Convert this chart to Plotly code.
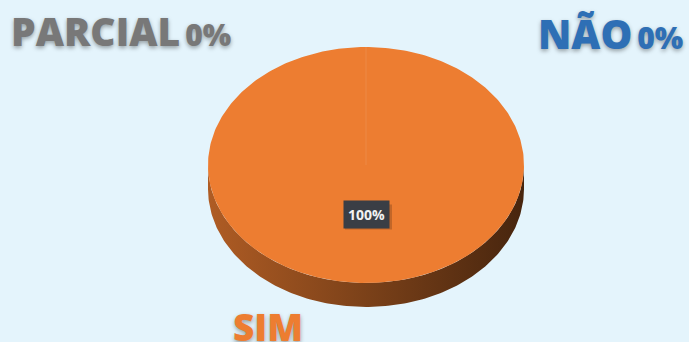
import math
import plotly.graph_objects as go

# Survey answers
categories = ["SIM", "NÃO", "PARCIAL"]
values = [100, 0, 0]
colors = ["#ED7D31", "#2E6FB5", "#787878"]

W, H = 689, 342
BG = "#E4F4FC"

# Elliptical "3D" pie geometry (in plot pixels, y downward)
CX, CY = 366, 165
RX, RY = 158, 118
DEPTH = 24


def pt(phi_deg, dy=0.0, r=1.0):
    """Point on the top face; phi measured clockwise from 12 o'clock."""
    a = math.radians(phi_deg)
    return CX + r * RX * math.sin(a), CY - r * RY * math.cos(a) + dy


def shade(hex_color, f):
    h = hex_color.lstrip("#")
    r, g, b = (int(h[i:i + 2], 16) for i in (0, 2, 4))
    return "rgb(%d,%d,%d)" % (r * f, g * f, b * f)


total = sum(values)
fractions = [v / total for v in values]
starts = []
acc = 0.0
for f in fractions:
    starts.append(acc * 360)
    acc += f

fig = go.Figure()

# Side wall (front half of the rim) for each slice, lit from the left
for cat, f, a0, col in zip(categories, fractions, starts, colors):
    a1 = a0 + f * 360
    lo, hi = max(a0, 90), min(a1, 270)
    if hi <= lo:
        continue
    n = max(2, int(hi - lo))
    top = [pt(lo + (hi - lo) * i / n) for i in range(n + 1)]
    xs = [p[0] for p in top] + [p[0] for p in reversed(top)] + [top[0][0]]
    ys = [p[1] for p in top] + [p[1] + DEPTH for p in reversed(top)] + [top[0][1]]
    fig.add_trace(go.Scatter(
        x=xs, y=ys, mode="lines", fill="toself",
        fillgradient=dict(
            type="horizontal",
            colorscale=[[0.0, shade(col, 0.74)], [0.5, shade(col, 0.52)],
                        [1.0, shade(col, 0.30)]]),
        line=dict(width=0, color=shade(col, 0.4)),
        hoverinfo="skip", showlegend=False))

# Top face wedges
for cat, f, a0, col in zip(categories, fractions, starts, colors):
    if f <= 0:
        continue
    a1 = a0 + f * 360
    n = max(2, int(f * 360))
    xs, ys = [CX], [CY]
    for i in range(n + 1):
        x, y = pt(a0 + (a1 - a0) * i / n)
        xs.append(x)
        ys.append(y)
    xs.append(CX)
    ys.append(CY)
    fig.add_trace(go.Scatter(
        x=xs, y=ys, mode="lines", fill="toself", fillcolor=col,
        line=dict(width=0, color=col), name=cat,
        hoverinfo="name", showlegend=False))

# Faint slice boundaries
for a0 in sorted(set(starts)):
    x, y = pt(a0)
    fig.add_trace(go.Scatter(
        x=[CX, x], y=[CY, y], mode="lines",
        line=dict(color="rgba(255,255,255,0.06)", width=1),
        hoverinfo="skip", showlegend=False))

annotations = []
shapes = []

# Percentage label inside the non-empty slice
for cat, f, a0, v in zip(categories, fractions, starts, values):
    if v <= 0:
        continue
    mid = a0 + f * 180
    lx, ly = pt(mid, r=0.42)
    txt = "<b>%d%%</b>" % round(f * 100)
    shapes.append(dict(
        type="rect", xref="x", yref="y",
        x0=lx - 21, x1=lx + 26, y0=ly - 10, y1=ly + 15,
        fillcolor="rgba(0,0,0,0.18)", line=dict(width=0), layer="above"))
    annotations.append(dict(
        x=lx, y=ly, text=txt, showarrow=False,
        font=dict(family="Open Sans", size=14, color="#F2F2F2"),
        bgcolor="#3A3E45", borderpad=4,
        xanchor="center", yanchor="middle"))

# Category labels with their shares
label_pos = {
    "SIM": dict(x=231, y=326, xanchor="left", size=37),
    "NÃO": dict(x=685, y=33, xanchor="right", size=40),
    "PARCIAL": dict(x=9, y=30, xanchor="left", size=39),
}
for cat, f, col in zip(categories, fractions, colors):
    p = label_pos[cat]
    if cat == "SIM":
        txt = cat
    else:
        txt = "%s<span style='font-size:30px'>\u2009%d%%</span>" % (cat, round(f * 100))
    annotations.append(dict(
        x=p["x"], y=p["y"], text=txt, showarrow=False,
        xanchor=p["xanchor"], yanchor="middle",
        font=dict(family="Open Sans", size=p["size"], weight=800, color=col,
                  shadow="0px 2px 4px rgba(0,0,0,0.35)")))

fig.update_layout(
    width=W, height=H,
    margin=dict(l=0, r=0, t=0, b=0),
    paper_bgcolor=BG, plot_bgcolor=BG,
    xaxis=dict(range=[0, W], visible=False, fixedrange=True),
    yaxis=dict(range=[H, 0], visible=False, fixedrange=True),
    annotations=annotations,
    shapes=shapes,
    showlegend=False,
)

fig.write_html("out.html")
